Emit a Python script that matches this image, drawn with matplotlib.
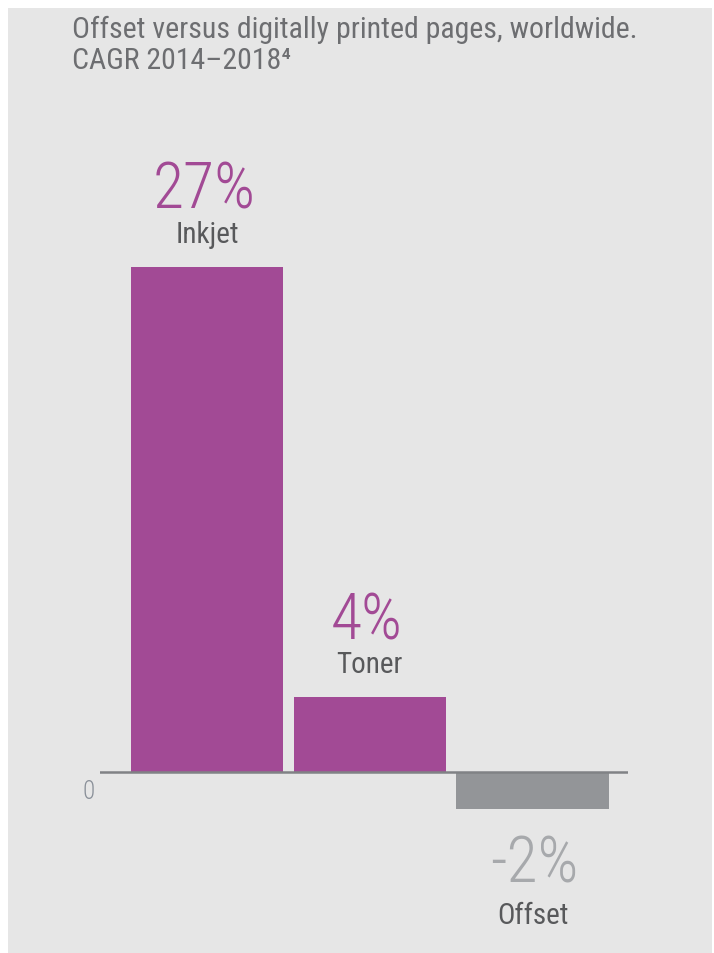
import matplotlib
matplotlib.use("Agg")
import matplotlib.pyplot as plt
from matplotlib import font_manager
from matplotlib.patches import Rectangle

# CAGR 2014-2018 by print technology
categories = ["Inkjet", "Toner", "Offset"]
cagr = [27, 4, -2]
bar_colors = ["#a24a95", "#a24a95", "#939598"]
value_colors = ["#a24a95", "#a24a95", "#a7a9ac"]

title_lines = ["Offset versus digitally printed pages, worldwide.",
               "CAGR 2014\u20132018\u2074"]

# pick a narrow face if one is installed
installed = {f.name for f in font_manager.fontManager.ttflist}
family = "Roboto"
for name in ["Roboto Condensed", "Liberation Sans Narrow"]:
    if name in installed:
        family = name
        break
plt.rcParams["font.family"] = [family, "DejaVu Sans"]

W, H = 714, 954
fig = plt.figure(figsize=(W / 100, H / 100), dpi=100, facecolor="white")

# grey panel behind everything
fig.patches.append(Rectangle((8 / W, 0), (712 - 8) / W, (H - 9) / H,
                             transform=fig.transFigure, facecolor="#e6e6e6",
                             edgecolor="none", zorder=-5))

for i, line in enumerate(title_lines):
    fig.text(72 / W, 1 - (38 + 31 * i) / H, line, ha="left", va="baseline",
             fontsize=21.5, color="#6d6e71")

# axes placed in pixel terms: zero line at y=773, 27% reaching y=268
x_left, x_right = 100, 628
y_top, y_bot = 100, 940
zero_y = 773
px_per_pct = (773 - 268) / 27
ax = fig.add_axes([x_left / W, 1 - y_bot / H, (x_right - x_left) / W, (y_bot - y_top) / H])
ax.set_facecolor("none")
ax.set_ylim(-(y_bot - zero_y) / px_per_pct, (zero_y - y_top) / px_per_pct)
step = 162.75
ax.set_xlim((x_left - 207) / step, (x_right - 207) / step)

xs = range(len(categories))
ax.bar(xs, cagr, width=0.935, color=bar_colors, zorder=2)
ax.axhline(0, color="#808285", linewidth=1.8, zorder=3)

for x, v, name, vc in zip(xs, cagr, categories, value_colors):
    if v >= 0:
        ax.annotate(name, (x, v), xytext=(0, 25), textcoords="offset pixels",
                    ha="center", va="baseline", fontsize=21, color="#58595b")
        ax.annotate(f"{v}%", (x, v), xytext=(-3, 59), textcoords="offset pixels",
                    ha="center", va="baseline", fontsize=46, fontweight="light",
                    color=vc)
    else:
        ax.annotate(f"{v}%", (x, v), xytext=(2, -72), textcoords="offset pixels",
                    ha="center", va="baseline", fontsize=46, fontweight="light",
                    color=vc)
        ax.annotate(name, (x, v), xytext=(0, -114), textcoords="offset pixels",
                    ha="center", va="baseline", fontsize=21, color="#58595b")

ax.annotate("0", (ax.get_xlim()[0], 0), xytext=(-11, -26), textcoords="offset pixels",
            ha="center", va="baseline", fontsize=18, fontweight="light",
            color="#8a9099")

for s in ax.spines.values():
    s.set_visible(False)
ax.set_xticks([])
ax.set_yticks([])

fig.savefig("out.png", dpi=100, facecolor=fig.get_facecolor())
